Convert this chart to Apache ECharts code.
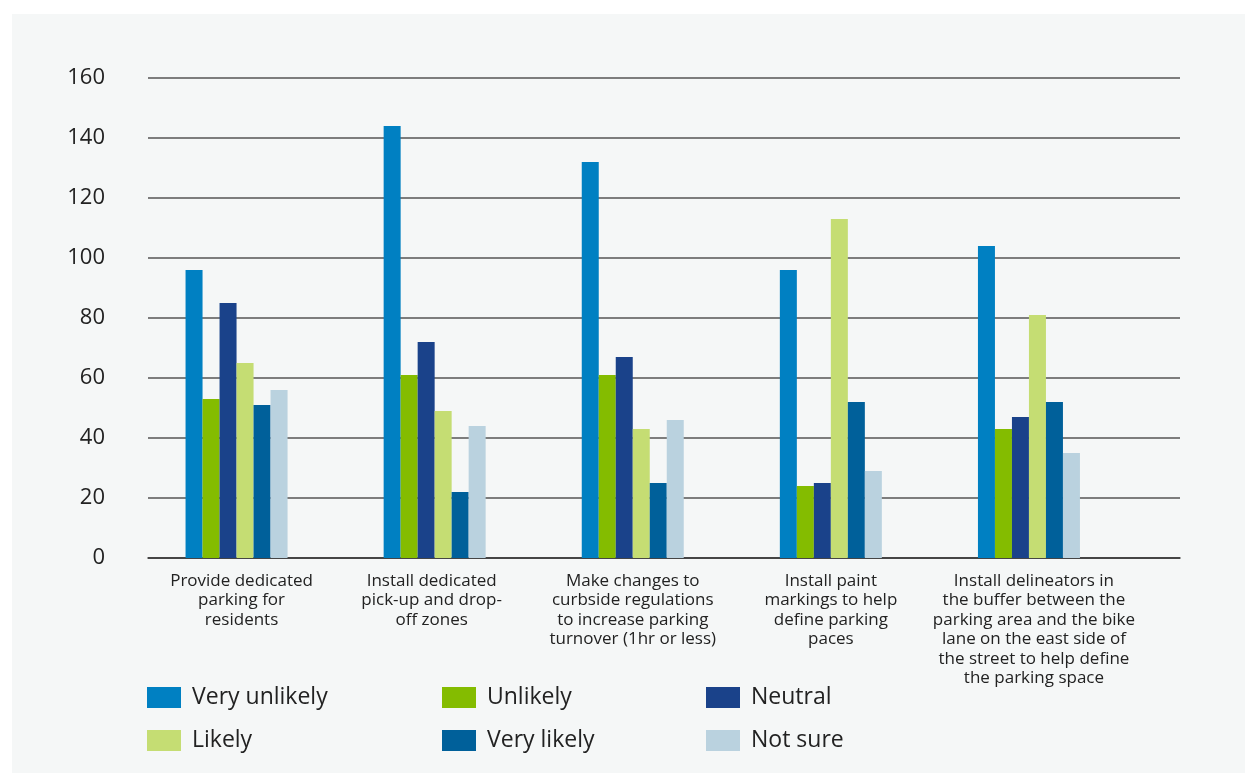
<!DOCTYPE html>
<html>
<head>
<meta charset="utf-8">
<script src="https://cdn.jsdelivr.net/npm/echarts@6/dist/echarts.min.js"></script>
<style>
html,body{margin:0;padding:0;background:#fff;}
#main{width:1257px;height:774px;}
</style>
</head>
<body>
<div id="main"></div>
<script>
const categories = [
  'Provide dedicated\nparking for\nresidents',
  'Install dedicated\npick-up and drop-\noff zones',
  'Make changes to\ncurbside regulations\nto increase parking\nturnover (1hr or less)',
  'Install paint\nmarkings to help\ndefine parking\npaces',
  'Install delineators in\nthe buffer between the\nparking area and the bike\nlane on the east side of\nthe street to help define\nthe parking space'
];
const seriesNames = ['Very unlikely', 'Unlikely', 'Neutral', 'Likely', 'Very likely', 'Not sure'];
const veryUnlikely = [96, 144, 132, 96, 104];
const unlikely = [53, 61, 61, 24, 43];
const neutral = [85, 72, 67, 25, 47];
const likely = [65, 49, 43, 113, 81];
const veryLikely = [51, 22, 25, 52, 52];
const notSure = [56, 44, 46, 29, 35];
const yMin = 0, yMax = 160, yInterval = 20;

const seriesData = [veryUnlikely, unlikely, neutral, likely, veryLikely, notSure];
const colors = ['#0080C2', '#84BC00', '#1A428A', '#C5DD73', '#00609A', '#BAD2DF'];
const FONT = '"Open Sans", "Noto Sans", sans-serif';
// small horizontal nudges of the category labels (layout only)
const labelPad = [[0, 0, 0, 10], [0, 6, 0, 0], [0, 0, 0, 0], [0, 0, 0, 0], [0, 0, 0, 10]];

const chart = echarts.init(document.getElementById('main'), null, {renderer: 'canvas'});

function legendCol(left, names) {
  return {
    orient: 'vertical', left: left, top: 686, padding: 0,
    itemWidth: 34, itemHeight: 21, itemGap: 20,
    icon: 'rect', selectedMode: false,
    data: names,
    textStyle: {fontFamily: FONT, fontSize: 23, color: '#222', lineHeight: 21, padding: [0, 0, 0, 6]}
  };
}

const option = {
  backgroundColor: '#ffffff',
  animation: false,
  color: colors,
  graphic: [{
    type: 'rect', z: -10, silent: true,
    shape: {x: 12, y: 14, width: 1233, height: 759},
    style: {fill: '#F5F7F7'}
  }],
  grid: [
    {left: 148, right: 77, top: 78, bottom: 216},
    {left: 137.5, width: 990.5, top: 78, bottom: 216}
  ],
  xAxis: [
    {gridIndex: 0, type: 'category', data: [''], axisLine: {show: true, lineStyle: {color: '#333', width: 1.5}},
      axisTick: {show: false}, axisLabel: {show: false}, splitLine: {show: false}},
    {gridIndex: 1, type: 'category',
      data: categories.map((c, i) => ({value: c, textStyle: {padding: labelPad[i]}})),
      axisLine: {show: false}, axisTick: {show: false},
      axisLabel: {interval: 0, margin: 13, fontFamily: FONT, fontSize: 17, lineHeight: 19.5, color: '#222', align: 'center'}}
  ],
  yAxis: [
    {gridIndex: 0, type: 'value', min: yMin, max: yMax, interval: yInterval,
      axisLine: {show: false}, axisTick: {show: false},
      axisLabel: {margin: 43, fontFamily: FONT, fontSize: 22, color: '#222'},
      splitLine: {show: true, lineStyle: {color: '#555', width: 1.5}}},
    {gridIndex: 1, type: 'value', min: yMin, max: yMax, interval: yInterval, show: false,
      splitLine: {show: false}}
  ],
  legend: [
    legendCol(147, [seriesNames[0], seriesNames[3]]),
    legendCol(442, [seriesNames[1], seriesNames[4]]),
    legendCol(706, [seriesNames[2], seriesNames[5]])
  ],
  series: seriesNames.map((name, i) => ({
    name: name, type: 'bar', xAxisIndex: 1, yAxisIndex: 1,
    data: seriesData[i], barWidth: 17, barGap: '0%',
    itemStyle: {color: colors[i]}
  }))
};
chart.setOption(option);
</script>
</body>
</html>
